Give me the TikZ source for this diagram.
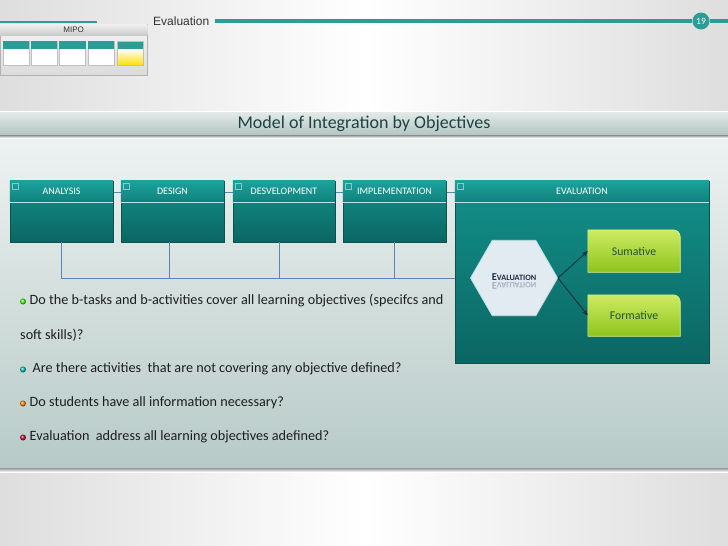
\documentclass[tikz,border=0pt]{standalone}
\usepackage{fontspec}
\setmainfont{Carlito}
\newfontfamily\arialf{Liberation Sans}
\usetikzlibrary{shapes.geometric,arrows.meta,shadows}
\definecolor{tealTop}{HTML}{1BA29C}
\definecolor{tealMid}{HTML}{13908A}
\definecolor{tealBot}{HTML}{0B6662}
\definecolor{tealLine}{HTML}{2B9C96}
\definecolor{connC}{HTML}{5C83B3}
\definecolor{panelTop}{HTML}{EEF3F2}
\definecolor{panelBot}{HTML}{B7CAC7}
\definecolor{barTop}{HTML}{E6ECEA}
\definecolor{barBot}{HTML}{B2C5C2}
\definecolor{titleC}{HTML}{1D4341}
\definecolor{greenTop}{HTML}{CDEB62}
\definecolor{greenBot}{HTML}{8EC41C}
\definecolor{greenText}{HTML}{24503C}
\definecolor{hexFill}{HTML}{E2EAF2}
\definecolor{navy}{HTML}{1B2D42}
\definecolor{bodyText}{HTML}{1E1E1E}
\tikzset{
  phasebox/.style={rectangle, inner sep=0pt, minimum height=61pt,
    top color=tealMid, bottom color=tealBot, draw=tealBot!80!black, line width=0.4pt,
    drop shadow={shadow xshift=1pt, shadow yshift=-1pt, opacity=0.25}},
  phaselabel/.style={text=white, font=\fontsize{10}{10}\selectfont, inner sep=0pt},
  conn/.style={draw=connC, line width=0.8pt},
  greenbox/.style={rectangle, inner sep=0pt, minimum width=92pt},
  greenlabel/.style={text=greenText, font=\fontsize{11.8}{12}\selectfont},
  bodyline/.style={anchor=west, inner sep=0pt, text=bodyText, font=\fontsize{14.2}{15}\selectfont},
  arrowline/.style={draw=navy, line width=0.9pt, -{Stealth[length=6pt,width=5pt]}},
  minibox/.style={rectangle, inner sep=0pt, minimum height=24pt, minimum width=26pt, draw=black!25, fill=white}
}
\newcommand{\hdr}[2]{%
  \shade[top color=tealTop, bottom color=tealMid!90!black] (#1.north west) rectangle ([yshift=-21pt]#1.north east);
  \draw[white!70!tealTop, line width=0.6pt] ([yshift=-21pt]#1.north west) -- ([yshift=-21pt]#1.north east);
  \draw[white!45!tealTop, line width=0.4pt] ([xshift=2pt,yshift=-2pt]#1.north west) rectangle ([xshift=8pt,yshift=-8pt]#1.north west);
  \node[phaselabel] (#1lab) at ([yshift=-10.5pt]#1.north) {#2};
}
\begin{document}
\begin{tikzpicture}[x=1pt,y=-1pt]
\useasboundingbox (0,0) rectangle (728,546);
% background
\shade[left color=black!13, right color=black!13, middle color=white] (0,0) rectangle (728,546);
% top header
\draw[tealLine, line width=2pt] (0,22) -- (97,22);
\node[anchor=west, inner sep=0pt, text=black!80, font=\arialf\fontsize{12}{12}\selectfont] (toptitle) at (153,21) {Evaluation};
\node[circle, fill=tealLine, inner sep=0pt, minimum size=17pt, text=white, font=\fontsize{9.5}{10}\selectfont] (pagenum) at (701,21) {19};
\draw[tealLine, line width=4pt] ([xshift=6pt]toptitle.east) -- (pagenum.west);
\draw[tealLine, line width=4pt] (pagenum.east) -- (728,21);
% MIPO thumbnail
\node[rectangle, inner sep=0pt, minimum width=147pt, minimum height=51pt, anchor=north west,
  top color=black!4, bottom color=black!14, draw=black!30,
  drop shadow={shadow xshift=1pt, shadow yshift=-1pt, opacity=0.3}] (mipo) at (0,24) {};
\shade[top color=black!6, bottom color=black!20] (mipo.north west) rectangle ([yshift=-11pt]mipo.north east);
\node[text=black!80, font=\arialf\fontsize{8}{8}\selectfont, inner sep=0pt] (mipolab) at ([yshift=-5.5pt]mipo.north) {MIPO};
\foreach \cx/\nm in {16/ma,44/mb,72.5/mc,101/md,130/me}{
  \node[minibox, anchor=north] (\nm) at (\cx,41) {};
  \fill[tealLine] (\nm.north west) rectangle ([yshift=-8pt]\nm.north east);
}
\shade[top color=white, bottom color=yellow!75!orange] ([yshift=-8pt]me.north west) rectangle (me.south east);
\draw[black!25] (me.north west) rectangle (me.south east);
% panel
\shade[top color=panelTop, bottom color=panelBot] (0,135) rectangle (728,468);
\shade[top color=black!40, bottom color=black!0] (0,468) rectangle (728,472);
\shade[top color=barTop, bottom color=barBot] (0,111) rectangle (728,135);
\shade[top color=black!45, bottom color=black!0] (0,135) rectangle (728,138);
\draw[white] (0,111) -- (728,111);
\node[text=titleC, font=\fontsize{18}{18}\selectfont, inner sep=0pt] (title) at (364,123.5) {Model of Integration by Objectives};
% phase boxes
\coordinate (busend) at (455,278);
\draw[conn] (113,192) -- (455,192);
\node[phasebox, minimum width=103pt] (ana) at (61.5,211.5) {};
\node[phasebox, minimum width=103pt] (des) at (172.5,211.5) {};
\node[phasebox, minimum width=102pt] (dev) at (284,211.5) {};
\node[phasebox, minimum width=103pt] (imp) at (394.5,211.5) {};
\node[phasebox, minimum width=254pt, minimum height=182pt] (evb) at (582,272) {};
\hdr{ana}{ANALYSIS}
\hdr{des}{DESIGN}
\hdr{dev}{DESVELOPMENT}
\hdr{imp}{IMPLEMENTATION}
\hdr{evb}{EVALUATION}
\draw[conn] ([xshift=-0.5pt]ana.south) |- (busend);
\draw[conn] ([xshift=-3.5pt]des.south) -- ([xshift=-3.5pt]des.south |- busend);
\draw[conn] ([xshift=-5pt]dev.south) -- ([xshift=-5pt]dev.south |- busend);
\draw[conn] ([xshift=-0.5pt]imp.south) -- ([xshift=-0.5pt]imp.south |- busend);
% evaluation content
\node[regular polygon, regular polygon sides=6, minimum size=87pt, inner sep=0pt,
  fill=hexFill, draw=white!70!tealTop, line width=0.8pt,
  drop shadow={shadow xshift=1pt, shadow yshift=-1pt, opacity=0.3}] (hex) at (514,278) {};
\node[text=navy, font=\bfseries, inner sep=0pt] (hexlab) at (514,277)
  {{\fontsize{10.5}{10}\selectfont E}{\fontsize{8.2}{8}\selectfont VALUATION}};
\node[text=navy, font=\bfseries, inner sep=0pt, yscale=-1, opacity=0.3, anchor=south] (hexrefl) at (514,282)
  {{\fontsize{10.5}{10}\selectfont E}{\fontsize{8.2}{8}\selectfont VALUATION}};
\node[greenbox, minimum height=42pt] (sum) at (634,251) {};
\node[greenbox, minimum height=41pt] (form) at (634,315.5) {};
\foreach \b in {sum,form}{
  \shade[top color=greenTop, bottom color=greenBot, draw=greenTop!70!white, line width=0.6pt,
    drop shadow={shadow xshift=1pt, shadow yshift=-1pt, opacity=0.35}]
    (\b.south west) -- (\b.north west) [rounded corners=7pt] -- (\b.north east) [sharp corners] -- (\b.south east) -- cycle;
}
\node[greenlabel] (sumlab) at (sum.center) {Sumative};
\node[greenlabel] (formlab) at (form.center) {Formative};
\draw[arrowline] (hex.east) -- (sum.west);
\draw[arrowline] (hex.east) -- (form.west);
% bullet text
\shade[ball color=green!70!lime] (23,301.5) circle (3pt);
\node[bodyline] (l1) at (29.5,301) {Do the b-tasks and b-activities cover all learning objectives (specifcs and};
\node[bodyline] (l2) at (20,335) {soft skills)?};
\shade[ball color=cyan!50!teal] (23,369.5) circle (3pt);
\node[bodyline] (l3) at (32.5,369) {Are there activities\ \ that are not covering any objective defined?};
\shade[ball color=orange] (23,403.5) circle (3pt);
\node[bodyline] (l4) at (29.5,403) {Do students have all information necessary?};
\shade[ball color=purple!70!red] (23,437.5) circle (3pt);
\node[bodyline] (l5) at (29.5,437) {Evaluation\ \ address all learning objectives adefined?};
\end{tikzpicture}
\end{document}
